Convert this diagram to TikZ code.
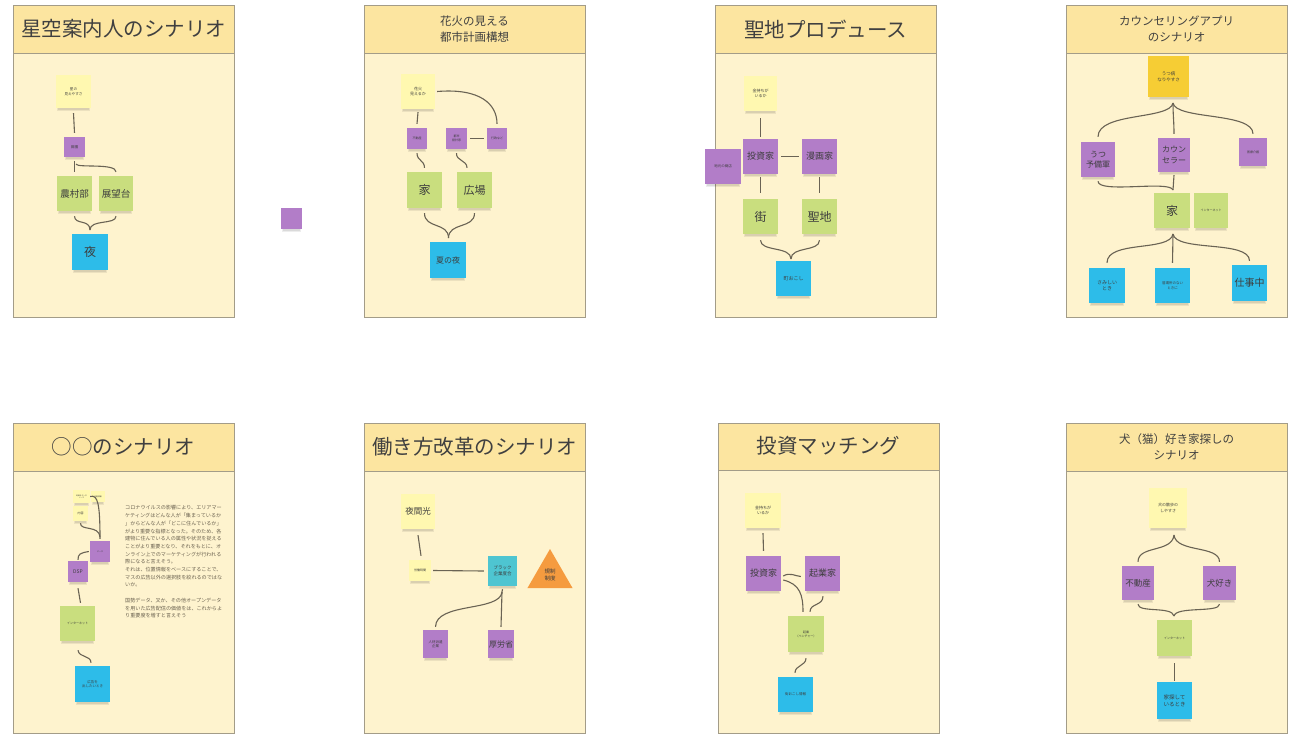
\documentclass[tikz,border=0pt]{standalone}
\usepackage{fontspec}
\setmainfont{Noto Sans CJK JP}
\usetikzlibrary{shapes.geometric}
\definecolor{pbg}{HTML}{FEF3CE}
\definecolor{hbg}{HTML}{FCE5A0}
\definecolor{pbd}{HTML}{A39C88}
\definecolor{ylw}{HTML}{FFF8B0}
\definecolor{pur}{HTML}{B27DC8}
\definecolor{grn}{HTML}{C9DE7E}
\definecolor{blu}{HTML}{2DBCE9}
\definecolor{gld}{HTML}{F6CD34}
\definecolor{tea}{HTML}{4EC5D1}
\definecolor{org}{HTML}{F59B3F}
\definecolor{txt}{HTML}{3D3D3D}
\definecolor{ttxt}{HTML}{404040}
\definecolor{ln}{HTML}{6A6354}
\definecolor{ptxt}{HTML}{6B6250}
\tikzset{
  stk/.style={inner sep=0pt, align=center, text=txt},
  cn/.style={draw=ln, line width=1.1pt},
  ttl/.style={text=ttxt, align=center, inner sep=0pt},
  bigttl/.style={ttl, font=\fontsize{20.5}{24}\selectfont},
  smttl/.style={ttl, font=\fontsize{11.5}{15.5}\selectfont}
}
\newcommand\Sticky[8]{%
  \fill[black,opacity=0.07] (#2+1,#5-1) rectangle (#4-1,#5+3);
  \fill[black,opacity=0.08] (#2+2,#5-1) rectangle (#4-2,#5+1.8);
  \pgfmathsetmacro\stkbl{1.3*#7}%
  \node[stk, fill=#6, minimum width={#4-#2}, minimum height={#5-#3},
        font=\fontsize{#7}{\stkbl}\selectfont] (#1) at ({(#2+#4)/2},{(#3+#5)/2}) {#8};}
\newcommand\Panel[5]{%
  \fill[pbg] (#1,#2) rectangle (#3,#4);
  \fill[hbg] (#1,#2) rectangle (#3,#5);
  \draw[pbd, line width=0.7pt] (#1,#5) -- (#3,#5);
  \draw[pbd, line width=0.8pt] (#1,#2) rectangle (#3,#4);}
\begin{document}
\begin{tikzpicture}[x=1pt,y=-1pt]
\fill[white] (0,0) rectangle (1300,739);
\useasboundingbox (0,0) rectangle (1300,739);
% panels
\Panel{13}{5}{234}{317}{53}
\Panel{364}{5}{585}{317}{53}
\Panel{715}{5}{936}{317}{53}
\Panel{1066}{5}{1287}{317}{53}
\Panel{13}{423}{234}{733}{471}
\Panel{364}{423}{585}{733}{471}
\Panel{718}{423}{939}{733}{470}
\Panel{1066}{423}{1287}{733}{471}
% titles
\node[bigttl] (t1) at (123.5,29) {星空案内人のシナリオ};
\node[smttl] (t2) at (474.5,29) {花火の見える\\都市計画構想};
\node[bigttl] (t3) at (825.5,29) {聖地プロデュース};
\node[smttl] (t4) at (1176.5,29) {カウンセリングアプリ\\のシナリオ};
\node[bigttl] (t5) at (123.5,447) {○○のシナリオ};
\node[bigttl] (t6) at (474.5,447) {働き方改革のシナリオ};
\node[bigttl] (t7) at (828.5,446) {投資マッチング};
\node[smttl] (t8) at (1176.5,447) {犬（猫）好き家探しの\\シナリオ};
% ---------- panel 1
\Sticky{s11}{56}{75}{91}{108}{ylw}{3.6}{星の\\見えやすさ}
\Sticky{s12}{64}{137}{85}{157}{pur}{3.6}{田園}
\Sticky{s13}{57}{176}{92}{211}{grn}{9.5}{農村部}
\Sticky{s14}{99}{176}{133}{211}{grn}{9.5}{展望台}
\Sticky{s15}{72}{234}{108}{270}{blu}{12}{夜}
\coordinate (j12) at (90,230);
\draw[cn] ([yshift=-5pt]s11.south) -- ([yshift=4pt]s12.north);
\draw[cn] ([yshift=-4pt]s12.south) -- ([yshift=4pt]s13.north);
\draw[cn] ([xshift=1.5pt,yshift=-7pt]s12.south) .. controls (78,168) and (116,163) .. ([yshift=4pt]s14.north);
\draw[cn] ([yshift=-5pt]s13.south) .. controls (74.5,225) and (90,219) .. (j12);
\draw[cn] ([yshift=-5pt]s14.south) .. controls (116,225) and (90,219) .. (j12);
% lone sticky
\Sticky{s0}{281}{208}{302}{229}{pur}{2}{}
% ---------- panel 2
\Sticky{s21}{401}{74}{435}{109}{ylw}{4}{花火\\見えるか}
\Sticky{s22}{407}{128}{427}{149}{pur}{3}{不動産}
\Sticky{s23}{446}{128}{467}{149}{pur}{3}{都市\\設計家}
\Sticky{s24}{487}{128}{507}{149}{pur}{3}{行政など}
\Sticky{s25}{407}{172}{442}{208}{grn}{12}{家}
\Sticky{s26}{457}{172}{492}{208}{grn}{11}{広場}
\Sticky{s27}{430}{242}{466}{278}{blu}{8}{夏の夜}
\coordinate (j22) at (448.5,238);
\draw[cn] ([yshift=-3pt]s21.south) -- ([yshift=4pt]s22.north);
\draw[cn] ([xshift=2pt]s21.east) .. controls (480,88) and (497,104) .. ([yshift=4pt]s24.north);
\draw[cn] ([xshift=3pt]s23.east) -- ([xshift=-3pt]s24.west);
\draw[cn] ([yshift=-4pt]s22.south) .. controls (417,161) and (424.5,160) .. ([yshift=4pt]s25.north);
\draw[cn] ([yshift=-4pt]s23.south) .. controls (456,161) and (467,160) .. ([xshift=-7.5pt,yshift=4pt]s26.north);
\draw[cn] ([yshift=-5pt]s25.south) .. controls (424.5,229) and (448.5,222) .. (j22);
\draw[cn] ([yshift=-5pt]s26.south) .. controls (474.5,229) and (448.5,222) .. (j22);
% ---------- panel 3
\Sticky{s31}{744}{76}{777}{111}{ylw}{4}{金持ちが\\いるか}
\Sticky{s32}{743}{139}{778}{174}{pur}{9}{投資家}
\Sticky{s33}{802}{139}{837}{174}{pur}{9}{漫画家}
\Sticky{s34}{705}{149}{741}{184}{pur}{3.5}{地元の商店}
\Sticky{s35}{743}{199}{778}{234}{grn}{12}{街}
\Sticky{s36}{802}{199}{837}{234}{grn}{12}{聖地}
\Sticky{s37}{776}{261}{811}{296}{blu}{5}{町おこし}
\coordinate (j3) at (791,259);
\draw[cn] ([yshift=-7pt]s31.south) -- ([yshift=2pt]s32.north);
\draw[cn] ([xshift=3pt]s32.east) -- ([xshift=-3pt]s33.west);
\draw[cn] ([yshift=-3pt]s32.south) -- ([yshift=6pt]s35.north);
\draw[cn] ([yshift=-3pt]s33.south) -- ([yshift=6pt]s36.north);
\draw[cn] ([yshift=-6pt]s35.south) .. controls (760.5,252) and (791,246) .. (j3);
\draw[cn] ([yshift=-6pt]s36.south) .. controls (819.5,252) and (791,246) .. (j3);
% ---------- panel 4
\Sticky{s41}{1148}{56}{1189}{97}{gld}{4.5}{うつ病\\なりやすさ}
\Sticky{s42}{1081}{142}{1115}{177}{pur}{8}{うつ\\予備軍}
\Sticky{s43}{1158}{138}{1190}{172}{pur}{8}{カウン\\セラー}
\Sticky{s44}{1239}{138}{1267}{166}{pur}{3}{医療介護}
\Sticky{s45}{1154}{193}{1190}{228}{grn}{12}{家}
\Sticky{s46}{1194}{193}{1228}{228}{grn}{3}{インターネット}
\Sticky{s47}{1089}{268}{1125}{303}{blu}{5}{さみしい\\とき}
\Sticky{s48}{1155}{268}{1190}{303}{blu}{3.5}{居場所のない\\ときに}
\Sticky{s49}{1232}{265}{1267}{301}{blu}{10}{仕事中}
\coordinate (j41) at (1173,103);
\coordinate (j42) at (1173,190);
\coordinate (j43) at (1173,234);
\draw[cn] (j41) .. controls (1170,120) and (1098,112) .. ([yshift=5pt]s42.north);
\draw[cn] (j41) .. controls (1173,115) and (1174,122) .. ([yshift=4pt]s43.north);
\draw[cn] (j41) .. controls (1176,120) and (1253,112) .. ([yshift=4pt]s44.north);
\draw[cn] ([yshift=-4pt]s42.south) .. controls (1098,194) and (1170,180) .. (j42);
\draw[cn] ([yshift=-3pt]s43.south) -- (j42);
\draw[cn] (j43) .. controls (1170,252) and (1107,240) .. ([yshift=5pt]s47.north);
\draw[cn] (j43) -- ([yshift=5pt]s48.north);
\draw[cn] (j43) .. controls (1176,252) and (1249.5,240) .. ([yshift=4pt]s49.north);
% ---------- panel 5
\Sticky{s51}{73}{490}{90}{503}{ylw}{1.8}{地域のデータ\\ソース}
\Sticky{s52}{91}{491}{105}{502}{ylw}{1.8}{位置情報}
\Sticky{s53}{73}{506}{88}{521}{ylw}{3}{内容}
\Sticky{s54}{90}{541}{110}{562}{pur}{2}{データ}
\Sticky{s55}{68}{561}{88}{582}{pur}{5}{DSP}
\Sticky{s56}{60}{606}{95}{641}{grn}{3}{インターネット}
\Sticky{s57}{75}{666}{110}{702}{blu}{3.5}{広告を\\出したいとき}
\draw[cn] (s51.east) .. controls (98,494) and (100,505) .. ([yshift=2pt]s54.north);
\draw[cn] ([yshift=-2pt]s53.south) .. controls (80,531) and (99,525) .. ([yshift=4pt]s54.north);
\draw[cn] ([xshift=-1pt]s54.west) .. controls (80,553) and (78,554) .. ([yshift=1pt]s55.north);
\draw[cn] ([yshift=-6pt]s55.south) -- ([xshift=3pt,yshift=3pt]s56.north);
\draw[cn] ([xshift=0.5pt,yshift=-9pt]s56.south) .. controls (79,658) and (91,655) .. ([xshift=-1.5pt,yshift=3pt]s57.north);
\node[anchor=north west, align=left, inner sep=0pt, text=ptxt,
      font=\fontsize{5.1}{7.7}\selectfont] (para) at (125,505.5) {%
コロナウイルスの影響により、エリアマー\\
ケティングはどんな人が「集まっているか\\
」からどんな人が「どこに住んでいるか」\\
がより重要な指標となった。そのため、各\\
建物に住んでいる人の属性や状況を捉える\\
ことがより重要となり、それをもとに、オ\\
ンライン上でのマーケティングが行われる\\
際になると言えそう。\\
それは、位置情報をベースにすることで、\\
マスの広告以外の選択肢を絞れるのではな\\
いか。\\[7.7pt]
国勢データ、又か、その他オープンデータ\\
を用いた広告配信の価値をは、これからよ\\
り重要度を増すと言えそう};
% ---------- panel 6
\Sticky{s61}{401}{494}{435}{529}{ylw}{8.5}{夜間光}
\Sticky{s62}{409}{560}{431}{581}{ylw}{3}{労働時間}
\Sticky{s63}{488}{556}{517}{586}{tea}{4.5}{ブラック\\企業度合}
\Sticky{s65}{423}{630}{448}{658}{pur}{3.5}{人材派遣\\企業}
\Sticky{s66}{488}{630}{514}{658}{pur}{8}{厚労省}
\node[regular polygon, regular polygon sides=3, fill=org, minimum size=52pt,
      inner sep=0pt, text=txt, align=center, font=\fontsize{5.5}{7.5}\selectfont] (s64) at (550,575) {規制\\制度};
\coordinate (j6) at (502,592);
\draw[cn] ([yshift=-6pt]s61.south) -- ([xshift=1pt,yshift=4pt]s62.north);
\draw[cn] ([xshift=2pt]s62.east) -- ([xshift=-4pt]s63.west);
\draw[cn] ([yshift=-3pt]s63.south) -- (j6);
\draw[cn] (j6) -- ([yshift=3pt]s66.north);
\draw[cn] (j6) .. controls (500,612) and (436,602) .. ([yshift=3pt]s65.north);
% ---------- panel 7
\Sticky{s71}{745}{493}{781}{528}{ylw}{4}{金持ちが\\いるか}
\Sticky{s72}{746}{556}{781}{591}{pur}{9}{投資家}
\Sticky{s73}{805}{556}{840}{591}{pur}{9}{起業家}
\Sticky{s74}{788}{616}{824}{652}{grn}{3}{起業\\（ベンチャー）}
\Sticky{s75}{778}{677}{813}{712}{blu}{3.5}{街おこし情報}
\draw[cn] ([yshift=-5pt]s71.south) -- ([yshift=5pt]s72.north);
\draw[cn] ([xshift=2pt,yshift=-2.5pt]s72.east) .. controls (790,572) and (795,576) .. ([xshift=-4pt,yshift=-3pt]s73.west);
\draw[cn] ([xshift=2pt,yshift=-6.5pt]s72.east) .. controls (800,584) and (803,595) .. ([xshift=-3pt,yshift=4pt]s74.north);
\draw[cn] ([xshift=0.5pt,yshift=-5pt]s73.south) .. controls (823,606) and (810,603) .. ([xshift=4pt,yshift=4pt]s74.north);
\draw[cn] ([yshift=-6pt]s74.south) .. controls (806,666) and (795,665) .. ([xshift=-0.5pt,yshift=4pt]s75.north);
% ---------- panel 8
\Sticky{s81}{1149}{488}{1187}{528}{ylw}{4}{犬の散歩の\\しやすさ}
\Sticky{s82}{1122}{566}{1154}{600}{pur}{8.5}{不動産}
\Sticky{s83}{1203}{566}{1236}{600}{pur}{8.5}{犬好き}
\Sticky{s84}{1157}{620}{1192}{656}{grn}{3}{インターネット}
\Sticky{s85}{1157}{682}{1192}{719}{blu}{5.5}{家探して\\いるとき}
\coordinate (j81) at (1174,535);
\coordinate (j82) at (1174,616);
\draw[cn] (j81) .. controls (1172,553) and (1138,545) .. ([yshift=4pt]s82.north);
\draw[cn] (j81) .. controls (1176,553) and (1219.5,545) .. ([yshift=4pt]s83.north);
\draw[cn] ([yshift=-4pt]s82.south) .. controls (1138,613) and (1172,606) .. (j82);
\draw[cn] ([yshift=-4pt]s83.south) .. controls (1219.5,613) and (1176,606) .. (j82);
\draw[cn] ([yshift=-7pt]s84.south) -- ([yshift=1pt]s85.north);
\end{tikzpicture}
\end{document}
